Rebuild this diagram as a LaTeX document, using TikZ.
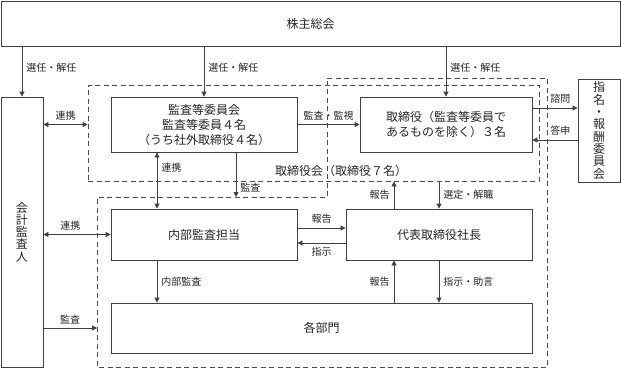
\documentclass[tikz,border=0pt]{standalone}
\usepackage{fontspec}
\setmainfont{Noto Sans CJK JP}
\usetikzlibrary{arrows.meta, calc}
\tikzset{
  box/.style={
    draw=black!75, rectangle, line width=0.8pt,
    font=\fontsize{12}{15}\selectfont, text=black!85,
    inner sep=0pt, align=center
  },
  vbox/.style={
    box, font=\fontsize{12}{12.3}\selectfont
  },
  grp/.style={draw=black!70, line width=0.8pt, dash pattern=on 5pt off 3.5pt},
  lbl/.style={font=\fontsize{10}{11}\selectfont, text=black!85, inner sep=4pt},
  arr/.style={-{Triangle[length=5pt, width=5pt]}, line width=0.8pt, black!75},
  dbl/.style={{Triangle[length=5pt, width=5pt]}-{Triangle[length=5pt, width=5pt]},
    line width=0.8pt, black!75},
}
\begin{document}
\begin{tikzpicture}[x=1pt, y=-1pt]
        \useasboundingbox (0,0) rectangle (621,368);
        \node[box, minimum width=619pt, minimum height=45pt] (gm) at (310.5,23.5) {株主総会};
        \node[vbox, minimum width=42pt, minimum height=270pt] (auditor) at (22,232) {会\\計\\監\\査\\人};
        \node[box, minimum width=186pt, minimum height=55pt] (acc) at (204,124.5)
          {監査等委員会\\監査等委員４名\\（うち社外取締役４名）};
        \node[box, minimum width=172pt, minimum height=55pt] (dir) at (446,124.5)
          {取締役（監査等委員で\\あるものを除く）３名};
        \node[vbox, minimum width=42pt, minimum height=103pt] (nom) at (599,130.5)
          {指\\名\\・\\報\\酬\\委\\員\\会};
        \node[box, minimum width=186pt, minimum height=51pt] (intaudit) at (204,234.5) {内部監査担当};
        \node[box, minimum width=186pt, minimum height=51pt] (ceo) at (439,234.5) {代表取締役社長};
        \node[box, minimum width=421pt, minimum height=50pt] (dept) at (321.5,328) {各部門};
        \node[grp, minimum width=451pt, minimum height=96pt] (board) at (313.5,133) {};
        \node[font=\fontsize{12}{15}\selectfont, text=black!85] (boardlbl) at (341,171)
          {取締役会（取締役７名）};
        \draw[grp] (327,78) -- (547,78) -- (547,367) -- (97,367) -- (97,197) -- (327,197) -- cycle;
        \coordinate (exectl) at (97,197);
        \coordinate (linkx) at ($(acc.south)+(-47,0)$);
        \coordinate (audx) at ($(acc.south)+(32,0)$);
        \coordinate (repx) at ($(ceo.north)+(-45,0)$);
        \coordinate (ask) at ($(dir.east)+(0,-16.5)$);
        \coordinate (ans) at ($(dir.east)+(0,15.5)$);
        \coordinate (rep) at ($(intaudit.east)+(0,-6.5)$);
        \coordinate (ins) at ($(intaudit.east)+(0,8.5)$);
        \draw[arr] (gm.south -| auditor.north) -- node[lbl, right, pos=0.43] {選任・解任} (auditor.north);
        \draw[arr] (gm.south -| acc.north) -- node[lbl, right, pos=0.43] {選任・解任} (acc.north);
        \draw[arr] (gm.south -| dir.north) -- node[lbl, right, pos=0.43] {選任・解任} (dir.north);
        \draw[dbl] (auditor.east |- acc.west) -- node[lbl, above] {連携} (board.west |- acc.west);
        \draw[arr] (acc.east) -- node[lbl, above] {監査・監視} (dir.west);
        \draw[arr] (ask) -- node[lbl, above, pos=0.62] {諮問} (ask -| nom.west);
        \draw[arr] (ans -| nom.west) -- node[lbl, above, pos=0.38] {答申} (ans);
        \draw[dbl] (linkx) -- node[lbl, right, pos=0.27] {連携} (linkx |- intaudit.north);
        \draw[arr] (audx) -- node[lbl, right, pos=0.8] {監査} (audx |- exectl);
        \draw[arr] (repx) -- node[lbl, left] {報告} (repx |- board.south);
        \draw[arr] (board.south -| ceo.north) -- node[lbl, right] {選定・解職} (ceo.north);
        \draw[arr] (rep) -- node[lbl, above] {報告} (rep -| ceo.west);
        \draw[arr] (ins -| ceo.west) -- node[lbl, below] {指示} (ins);
        \draw[dbl] (auditor.east |- intaudit.west) -- node[lbl, above, pos=0.4] {連携} (intaudit.west);
        \draw[arr] (linkx |- intaudit.south) -- node[lbl, right] {内部監査} (linkx |- dept.north);
        \draw[arr] (repx |- dept.north) -- node[lbl, left] {報告} (repx |- ceo.south);
        \draw[arr] (ceo.south) -- node[lbl, right] {指示・助言} (ceo.south |- dept.north);
        \draw[arr] (auditor.east |- dept.west) -- node[lbl, above] {監査} (exectl |- dept.west);
      \end{tikzpicture}
\end{document}
